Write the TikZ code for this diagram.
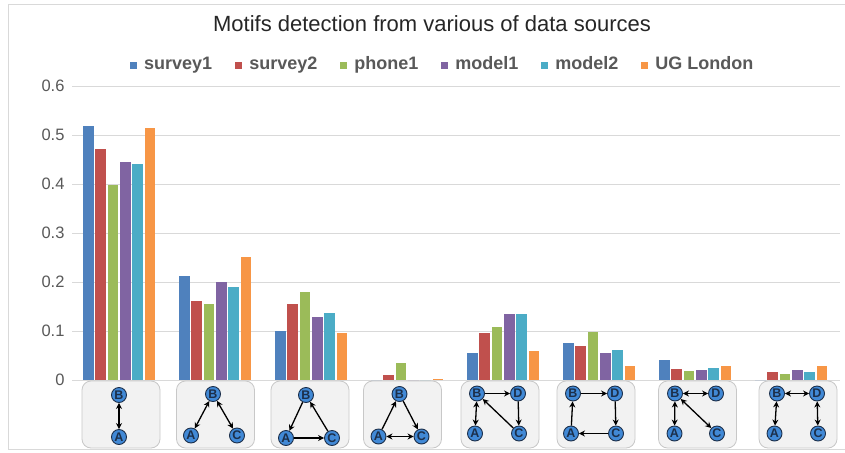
\documentclass[tikz,border=0pt]{standalone}
\usepackage{fontspec}
\setmainfont{Liberation Sans}
\usetikzlibrary{arrows.meta}
\definecolor{bar0}{HTML}{4F81BD}
\definecolor{bar1}{HTML}{C0504D}
\definecolor{bar2}{HTML}{9BBB59}
\definecolor{bar3}{HTML}{8064A2}
\definecolor{bar4}{HTML}{4BACC6}
\definecolor{bar5}{HTML}{F79646}
\definecolor{gridcol}{HTML}{D9D9D9}
\definecolor{framecol}{HTML}{D9D9D9}
\definecolor{labcol}{HTML}{595959}
\definecolor{boxfill}{HTML}{F2F2F2}
\definecolor{boxedge}{HTML}{C8C8C8}
\definecolor{nodeblue}{HTML}{4189D6}
\definecolor{nodeedge}{HTML}{1C2F4A}
\newcommand\bargroup[2]{%
  \foreach \v [count=\k from 0] in {#2} {%
    \pgfmathsetmacro\bx{120+96*#1-37+12.33*\k}%
    \fill[fill=bar\k] (\bx,380) rectangle ({\bx+10.6},{380-490*\v});
  }%
}
\newcommand\legmark[1]{\textcolor{#1}{\raisebox{1pt}{\rule{7pt}{7pt}}}\hspace{7pt}}
\tikzset{
  motifbox/.style={draw=boxedge, fill=boxfill, line width=0.8pt, rounded corners=9pt, minimum width=78pt, minimum height=67pt, inner sep=0pt},
  mnode/.style={circle, fill=nodeblue, draw=nodeedge, line width=0.9pt, inner sep=0pt, minimum size=15pt, font=\fontsize{12.5}{12.5}\selectfont\bfseries, text=nodeedge},
  oneway/.style={line width=1.3pt, -{Stealth[length=6pt,width=6pt]}},
  twoway/.style={line width=1.3pt, {Stealth[length=6pt,width=6pt]}-{Stealth[length=6pt,width=6pt]}},
  ticklab/.style={anchor=east, text=labcol, font=\fontsize{16.5}{16.5}\selectfont},
}
\begin{document}
\begin{tikzpicture}[x=1pt,y=-1pt]
\useasboundingbox (0,0) rectangle (845,452);
\fill[white] (0,0) rectangle (845,452);
% frame
\draw[framecol, line width=1pt] (845,5) -- (8,5) -- (8,449) -- (845,449);
% grid
\foreach \t in {1,...,6} {
  \draw[gridcol, line width=1pt] (72,{380-49*\t}) -- (840,{380-49*\t});
  \node[ticklab] (tick\t) at (68,{380-49*\t}) {0.\t};
}
\draw[gridcol, line width=1pt] (72,380) -- (840,380);
\node[ticklab] (tick0) at (68,380) {0};
% title
\node[font=\fontsize{22}{22}\selectfont, text=black!85] (title) at (432,24) {Motifs detection from various of data sources};
% legend
\node[anchor=west, inner sep=0pt, text=labcol, font=\fontsize{18}{18}\selectfont\bfseries] (legend) at (130,65) {%
\legmark{bar0}survey1\hspace{23pt}%
\legmark{bar1}survey2\hspace{23pt}%
\legmark{bar2}phone1\hspace{23pt}%
\legmark{bar3}model1\hspace{23pt}%
\legmark{bar4}model2\hspace{23pt}%
\legmark{bar5}UG London};
% bars
\bargroup{0}{0.519,0.471,0.398,0.444,0.441,0.515}
\bargroup{1}{0.212,0.162,0.156,0.201,0.190,0.251}
\bargroup{2}{0.100,0.156,0.179,0.129,0.136,0.095}
\bargroup{3}{0,0.010,0.035,0,0,0.003}
\bargroup{4}{0.056,0.095,0.109,0.135,0.135,0.060}
\bargroup{5}{0.076,0.069,0.098,0.056,0.061,0.028}
\bargroup{6}{0.040,0.022,0.018,0.020,0.024,0.028}
\bargroup{7}{0,0.016,0.013,0.021,0.016,0.028}
% motif boxes
\node[motifbox] (box1) at (121,414.5) {};
\node[motifbox] (box2) at (215.5,414.5) {};
\node[motifbox] (box3) at (310,414.5) {};
\node[motifbox] (box4) at (402.5,414.5) {};
\node[motifbox] (box5) at (500,414.5) {};
\node[motifbox] (box6) at (596,414.5) {};
\node[motifbox] (box7) at (697.5,414.5) {};
\node[motifbox] (box8) at (798,414.5) {};
% motif 1
\node[mnode] (m1B) at (119,395) {B};
\node[mnode] (m1A) at (119,437) {A};
\draw[twoway] (m1A) -- (m1B);
% motif 2
\node[mnode] (m2B) at (213,394) {B};
\node[mnode] (m2A) at (191,435.5) {A};
\node[mnode] (m2C) at (237,435.5) {C};
\draw[twoway] (m2A) -- (m2B);
\draw[twoway] (m2B) -- (m2C);
% motif 3
\node[mnode] (m3B) at (306,395) {B};
\node[mnode] (m3A) at (286,438) {A};
\node[mnode] (m3C) at (332,438) {C};
\draw[oneway] (m3B) -- (m3A);
\draw[oneway] (m3A) -- (m3C);
\draw[oneway] (m3C) -- (m3B);
% motif 4
\node[mnode] (m4B) at (399.5,394) {B};
\node[mnode] (m4A) at (378.5,436.5) {A};
\node[mnode] (m4C) at (421.5,436.5) {C};
\draw[oneway] (m4A) -- (m4B);
\draw[oneway] (m4B) -- (m4C);
\draw[twoway] (m4A) -- (m4C);
% motif 5
\node[mnode] (m5B) at (477,393.5) {B};
\node[mnode] (m5D) at (518,393.5) {D};
\node[mnode] (m5A) at (475,433.5) {A};
\node[mnode] (m5C) at (519,433.5) {C};
\draw[oneway] (m5B) -- (m5D);
\draw[oneway] (m5D) -- (m5C);
\draw[oneway] (m5C) -- (m5B);
\draw[twoway] (m5A) -- (m5B);
% motif 6
\node[mnode] (m6B) at (573,393.5) {B};
\node[mnode] (m6D) at (615,393.5) {D};
\node[mnode] (m6A) at (571,433.5) {A};
\node[mnode] (m6C) at (616,433.5) {C};
\draw[oneway] (m6B) -- (m6D);
\draw[oneway] (m6D) -- (m6C);
\draw[oneway] (m6C) -- (m6A);
\draw[oneway] (m6A) -- (m6B);
% motif 7
\node[mnode] (m7B) at (675,393.5) {B};
\node[mnode] (m7D) at (716,393.5) {D};
\node[mnode] (m7A) at (674.5,433.5) {A};
\node[mnode] (m7C) at (717,433.5) {C};
\draw[twoway] (m7B) -- (m7D);
\draw[twoway] (m7A) -- (m7B);
\draw[twoway] (m7B) -- (m7C);
% motif 8
\node[mnode] (m8B) at (777,393.5) {B};
\node[mnode] (m8D) at (817,393.5) {D};
\node[mnode] (m8A) at (774.5,433.5) {A};
\node[mnode] (m8C) at (818,433.5) {C};
\draw[twoway] (m8B) -- (m8D);
\draw[twoway] (m8A) -- (m8B);
\draw[twoway] (m8D) -- (m8C);
\end{tikzpicture}
\end{document}
